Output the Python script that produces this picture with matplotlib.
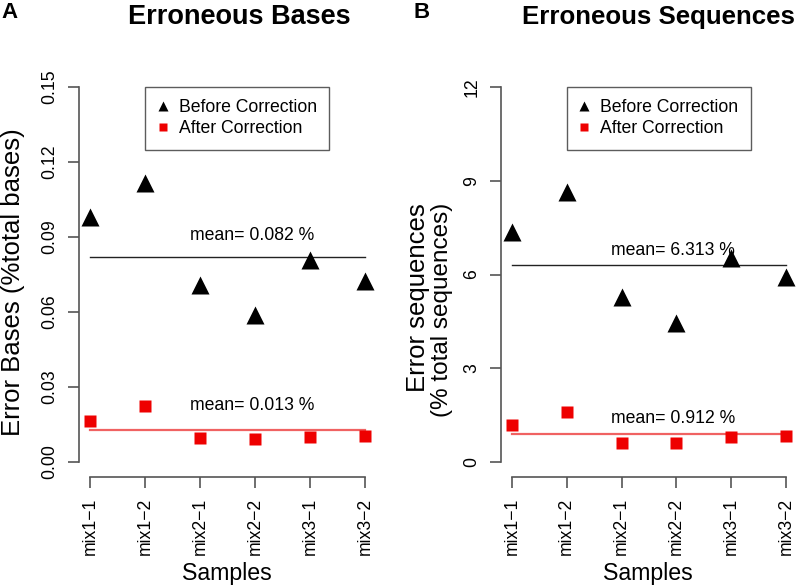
import matplotlib
matplotlib.use("Agg")
import matplotlib.pyplot as plt
from matplotlib.lines import Line2D
import numpy as np

plt.rcParams['font.family'] = ['Liberation Sans', 'DejaVu Sans']

# data
samples = ["mix1\u22121", "mix1\u22122", "mix2\u22121", "mix2\u22122", "mix3\u22121", "mix3\u22122"]

bases_before = [0.098, 0.1115, 0.071, 0.0588, 0.0808, 0.0724]
bases_after = [0.0165, 0.0224, 0.0097, 0.0092, 0.0101, 0.0104]
bases_means = [0.082, 0.013]
bases_yticks = [0.00, 0.03, 0.06, 0.09, 0.12, 0.15]
bases_ylabels = ["0.00", "0.03", "0.06", "0.09", "0.12", "0.15"]

seq_before = [7.36, 8.65, 5.27, 4.44, 6.52, 5.93]
seq_after = [1.18, 1.59, 0.62, 0.60, 0.81, 0.84]
seq_means = [6.313, 0.912]
seq_yticks = [0, 3, 6, 9, 12]
seq_ylabels = ["0", "3", "6", "9", "12"]

W, H = 800, 586
AXIS_GRAY = "#555555"
RED = "#ee0000"
RED_LINE = "#f06262"


def px_box(left, top, right, bottom):
    return [left / W, 1 - bottom / H, (right - left) / W, (bottom - top) / H]


def draw_panel(ax, before, after, means, yticks, ylabels, text_y):
    x = np.arange(1, len(samples) + 1)
    ymax = yticks[-1]

    ax.plot([1, 6], [means[0]] * 2, color="#222222", lw=1.0)
    ax.plot([1, 6], [means[1]] * 2, color=RED_LINE, lw=1.6)
    ax.plot(x, before, "^", color="black", ms=12.5, mec="none")
    ax.plot(x, after, "s", color=RED, ms=8.7, mec="none")

    ax.text(3.94, text_y[0], f"mean= {means[0]} %", ha="center", va="baseline", fontsize=12.7)
    ax.text(3.94, text_y[1], f"mean= {means[1]} %", ha="center", va="baseline", fontsize=12.7)

    ax.set_xlim(0.8, 6.2)
    ax.set_ylim(-0.04 * ymax, 1.04 * ymax)

    for side in ["top", "right"]:
        ax.spines[side].set_visible(False)
    for side in ["left", "bottom"]:
        ax.spines[side].set_color(AXIS_GRAY)
        ax.spines[side].set_linewidth(1.2)
    ax.spines["left"].set_bounds(0, ymax)
    ax.spines["bottom"].set_bounds(1, 6)

    ax.set_xticks(x)
    ax.set_xticklabels(samples, rotation=90)
    ax.set_yticks(yticks)
    ax.set_yticklabels(ylabels, rotation=90, va="center")
    ax.tick_params(length=8, width=1.2, color=AXIS_GRAY, labelsize=12.7, pad=7)

    handles = [
        Line2D([], [], marker="^", color="black", ls="none", ms=7, mec="none"),
        Line2D([], [], marker="s", color=RED, ls="none", ms=5.5, mec="none"),
    ]
    leg = ax.legend(handles, ["Before Correction", "After Correction"],
                    loc="upper left", bbox_to_anchor=(2, ymax), bbox_transform=ax.transData,
                    fontsize=12.7, frameon=True, fancybox=False, borderaxespad=0,
                    borderpad=0.7, labelspacing=0.22, handlelength=0.6, handletextpad=0.6)
    leg.get_frame().set_edgecolor("#333333")
    leg.get_frame().set_linewidth(1.0)


fig = plt.figure(figsize=(8, 5.86), dpi=100)

ax1 = fig.add_axes(px_box(79, 72, 376, 477))
draw_panel(ax1, bases_before, bases_after, bases_means, bases_yticks, bases_ylabels, [0.0888, 0.0208])

ax2 = fig.add_axes(px_box(501, 72, 797, 477))
draw_panel(ax2, seq_before, seq_after, seq_means, seq_yticks, seq_ylabels, [6.62, 1.24])

# titles, panel letters and axis labels
fig.text(239 / W, 1 - 17 / H, "Erroneous Bases", ha="center", va="center", fontsize=19.5, fontweight="bold")
fig.text(658 / W, 1 - 17 / H, "Erroneous Sequences", ha="center", va="center", fontsize=18.6, fontweight="bold")
fig.text(9 / W, 1 - 13 / H, "A", ha="center", va="center", fontsize=16, fontweight="bold")
fig.text(422 / W, 1 - 13 / H, "B", ha="center", va="center", fontsize=16, fontweight="bold")

fig.text(227 / W, 1 - 580 / H, "Samples", ha="center", va="baseline", fontsize=16.7)
fig.text(648 / W, 1 - 580 / H, "Samples", ha="center", va="baseline", fontsize=16.7)

fig.text(13 / W, 1 - 282 / H, "Error Bases (%total bases)", ha="center", va="center",
         rotation=90, fontsize=18.5)
fig.text(418 / W, 1 - 298 / H, "Error sequences", ha="center", va="center",
         rotation=90, fontsize=18.5)
fig.text(442 / W, 1 - 310 / H, "(% total sequences)", ha="center", va="center",
         rotation=90, fontsize=17.5)

fig.savefig("out.png", dpi=100)
